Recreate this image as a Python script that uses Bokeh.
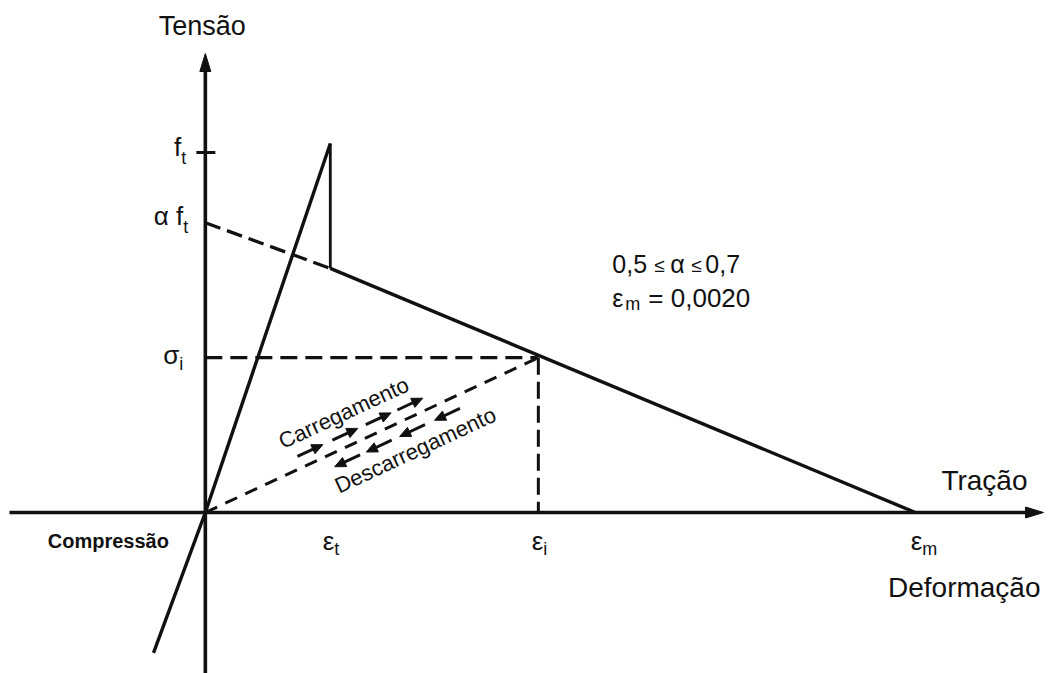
import math
from bokeh.plotting import figure
from bokeh.models import Range1d
from bokeh.core.properties import value
from bokeh.embed import file_html
from bokeh.resources import INLINE

# ---------------- values ----------------
# strains (deformação)
EPS_T = 0.000352        # ε_t : strain at the tensile peak
EPS_I = 0.000938        # ε_i : intermediate strain
EPS_M = 0.0020          # ε_m = 0,0020
# stresses (tensão), normalised to f_t
F_T = 1.0               # f_t
PEAK = 1.025            # top of the linear branch
ALPHA_FT = 0.805        # α f_t  (intercept of the softening branch)
DROP = 0.678            # stress right after the drop at ε_t
SIG_I = 0.43            # σ_i
# compression end of the linear branch
COMP_EPS = -0.000146
COMP_SIG = -0.39

# named series
linear_x = [COMP_EPS, 0.0, EPS_T]
linear_y = [COMP_SIG, 0.0, PEAK]
drop_x = [EPS_T, EPS_T]
drop_y = [PEAK, DROP]
soft_dash_x = [0.0, EPS_T]
soft_dash_y = [ALPHA_FT, DROP]
soft_x = [EPS_T, EPS_M]
soft_y = [DROP, 0.0]
unload_x = [0.0, EPS_I]
unload_y = [0.0, SIG_I]
sig_x = [0.0, EPS_I]
sig_y = [SIG_I, SIG_I]
epsi_x = [EPS_I, EPS_I]
epsi_y = [SIG_I, 0.0]

# ---------------- layout ----------------
W, H = 1048, 673
X0, X1 = -0.000577, 0.002375
Y0, Y1 = -0.4472, 1.4222
SX = W / (X1 - X0)   # px per strain unit
SY = H / (Y1 - Y0)   # px per stress unit
FONT = value("Liberation Sans")
INK = "#111111"


def px(n):
    return n / SX


def py(n):
    return n / SY


p = figure(width=W, height=H, x_range=Range1d(X0, X1), y_range=Range1d(Y0, Y1),
           output_backend="svg", toolbar_location=None,
           x_axis_location=None, y_axis_location=None,
           min_border=0, outline_line_color=None, background_fill_color="white",
           border_fill_color="white")
p.grid.visible = False


def head(tx, ty, dx, dy, L, Wd):
    """triangle with tip (tx,ty) in data; direction (dx,dy) unit in screen px (y up)."""
    bx, by = tx - px(dx * L), ty - py(dy * L)
    nx, ny = -dy, dx
    return ([tx, bx + px(nx * Wd), bx - px(nx * Wd)],
            [ty, by + py(ny * Wd), by - py(ny * Wd)])


def txt(x, y, s, size, align="left", style="normal", angle=0.0):
    p.text([x], [y], text=[s], angle=angle, text_font=FONT,
           text_font_size=value(size), text_font_style=style, text_color=INK,
           text_align=align, text_baseline="middle")


# ---- axes with arrows ----
x_tip = X1 - px(5)
y_tip = Y1 - py(53)
hx, hy = head(x_tip, 0.0, 1, 0, 18, 5.5)
vx, vy = head(0.0, y_tip, 0, 1, 18, 5.5)
p.line([X0 + px(9), x_tip - px(12)], [0, 0], line_width=3.6, line_color=INK)
p.line([0, 0], [Y0, y_tip - py(12)], line_width=3.6, line_color=INK)
p.patches([hx, vx], [hy, vy], fill_color=INK, line_color=INK, line_width=1)

# tick at f_t
p.line([-px(9), px(10)], [F_T, F_T], line_width=3.0, line_color=INK)

# ---- curves ----
p.line(linear_x, linear_y, line_width=3.4, line_color=INK)
p.line(drop_x, drop_y, line_width=2.8, line_color=INK)
p.line(soft_x, soft_y, line_width=3.4, line_color=INK)
p.line(soft_dash_x, soft_dash_y, line_width=3.3, line_color=INK, line_dash="16 7")
p.line(sig_x, sig_y, line_width=3.3, line_color=INK, line_dash="17 8")
p.line(epsi_x, epsi_y, line_width=3.0, line_color=INK, line_dash="17 7")
p.line(unload_x, unload_y, line_width=3.0, line_color=INK, line_dash="13 9")

# ---- loading / unloading arrows ----
Lpx = math.hypot(EPS_I * SX, SIG_I * SY)
ux, uy = EPS_I * SX / Lpx, SIG_I * SY / Lpx     # along the line (screen, y up)
nx, ny = -uy, ux                                # perpendicular (up-left)
ang = math.atan2(uy, ux)

up_frac = [0.33, 0.435, 0.535, 0.63]
down_frac = [0.41, 0.505, 0.605, 0.71]
half = 14
seg_x0, seg_y0, seg_x1, seg_y1 = [], [], [], []
hxs, hys = [], []
for f in up_frac:
    cx = f * EPS_I + px(nx * 12)
    cy = f * SIG_I + py(ny * 12)
    tx, ty = cx + px(ux * half), cy + py(uy * half)
    sx_, sy_ = cx - px(ux * half), cy - py(uy * half)
    seg_x0.append(sx_); seg_y0.append(sy_)
    seg_x1.append(tx - px(ux * 6)); seg_y1.append(ty - py(uy * 6))
    a, b = head(tx, ty, ux, uy, 11, 5)
    hxs.append(a); hys.append(b)
for f in down_frac:
    cx = f * EPS_I - px(nx * 13)
    cy = f * SIG_I - py(ny * 13)
    tx, ty = cx - px(ux * half), cy - py(uy * half)
    sx_, sy_ = cx + px(ux * half), cy + py(uy * half)
    seg_x0.append(sx_); seg_y0.append(sy_)
    seg_x1.append(tx + px(ux * 6)); seg_y1.append(ty + py(uy * 6))
    a, b = head(tx, ty, -ux, -uy, 11, 5)
    hxs.append(a); hys.append(b)
p.segment(seg_x0, seg_y0, seg_x1, seg_y1, line_width=3.0, line_color=INK)
p.patches(hxs, hys, fill_color=INK, line_color=INK, line_width=1)

# rotated labels
fc, fd = 0.456, 0.59
txt(fc * EPS_I + px(nx * 32), fc * SIG_I + py(ny * 32), "Carregamento", "22px",
    align="center", angle=ang)
txt(fd * EPS_I - px(nx * 32), fd * SIG_I - py(ny * 32), "Descarregamento", "22px",
    align="center", angle=ang)


def label(x, y, main, sub, align="right", msize="26px", ssize="18px", sub_dx=1, sub_dy=-11):
    txt(x, y, main, msize, align=align)
    txt(x + px(sub_dx), y + py(sub_dy), sub, ssize, align="left")


# y-axis labels
label(-px(24), F_T + py(5), "f", "t", sub_dx=0)
label(-px(22), ALPHA_FT + py(7), "α f", "t", sub_dx=0)
label(-px(26), SIG_I + py(3), "σ", "i", sub_dx=0, sub_dy=-9)

# x-axis labels
label(EPS_T + px(4), -py(28), "ε", "t", sub_dx=0, sub_dy=-8)
label(EPS_I + px(5), -py(28), "ε", "i", sub_dx=0, sub_dy=-8)
label(EPS_M + px(7), -py(28), "ε", "m", sub_dx=0, sub_dy=-8)

# axis titles
txt(-px(3), Y1 - py(25), "Tensão", "27px", align="center")
txt(x_tip - px(16), py(32), "Tração", "28px", align="right")
txt(x_tip - px(3), -py(75), "Deformação", "28px", align="right")
txt(-px(97), -py(28), "Compressão", "20px", align="center", style="bold")

# parameters note
nxp = px(407)          # left edge of the note
r1 = py(249)
r2 = py(215)
txt(nxp, r1, "0,5", "25px")
txt(nxp + px(42), r1 - py(2), "≤", "19px")
txt(nxp + px(58), r1, "α", "25px")
txt(nxp + px(79), r1 - py(2), "≤", "19px")
txt(nxp + px(93), r1, "0,7", "25px")
txt(nxp, r2, "ε", "25px")
txt(nxp + px(13), r2 - py(6), "m", "18px")
txt(nxp + px(36), r2, "= 0,0020", "26px")

open("out.html", "w").write(file_html(p, INLINE))
